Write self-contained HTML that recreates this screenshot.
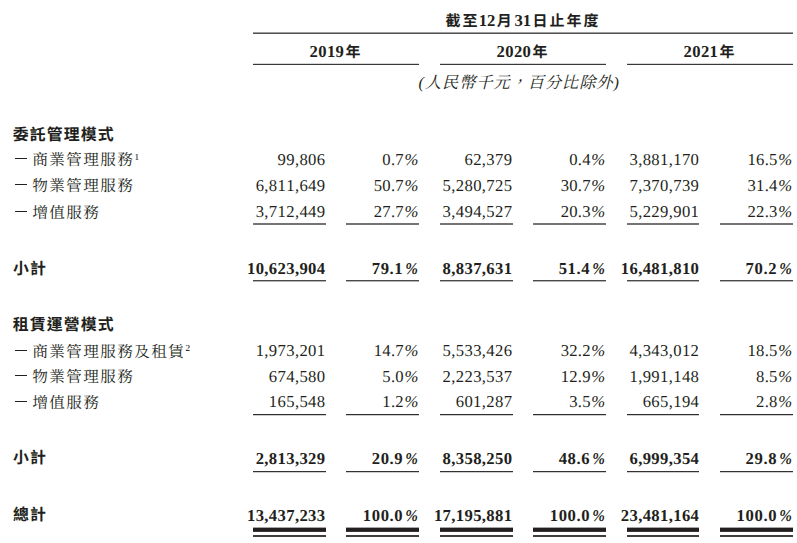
<!DOCTYPE html>
<html lang="zh-Hant"><head><meta charset="utf-8"><title>Revenue table</title>
<style>
html,body{margin:0;padding:0;background:#fff}
body{width:797px;height:543px;position:relative;overflow:hidden;font-family:"Liberation Serif",serif;font-size:16.67px;color:#231f20;text-rendering:geometricPrecision;font-kerning:none}
.r{position:absolute;left:0;width:797px;height:26px;line-height:26px;white-space:nowrap}
.l{position:absolute;left:12.2px;top:0}
.n{position:absolute;top:0;letter-spacing:0.35px;text-align:right}
.b{font-weight:bold}
.n.p{letter-spacing:.25px}
.n i{font-style:italic;margin-left:.5px;letter-spacing:0}
.b .n.p{letter-spacing:.6px}
.b .n i{margin-left:1.1px;display:inline-block;transform:scaleX(.91);transform-origin:100% 50%}
.hd{position:absolute;height:26px;line-height:26px;text-align:center;font-weight:bold;white-space:nowrap}
.note{position:absolute;height:26px;line-height:26px;white-space:nowrap}
.d{letter-spacing:0}
.ln{position:absolute}
.dash{display:inline-block;width:11.8px;height:1px;background:#231f20;vertical-align:5.9px;margin:0 5.4px 0 2.8px}
sup{color:#000;font-size:9.2px;line-height:0;vertical-align:5.3px;margin-left:.3px;letter-spacing:0}
.ch{font-family:"Liberation Sans","Noto Sans CJK TC",sans-serif;font-weight:bold;font-size:15px;letter-spacing:2px}
.cb{font-family:"Liberation Sans","Noto Sans CJK TC",sans-serif;font-weight:bold;font-size:15.9px;letter-spacing:1.1px}
.cs{font-family:"Liberation Serif","Noto Serif CJK SC",serif;font-weight:normal;font-size:15.6px;letter-spacing:1.4px}
.ck{font-family:"Liberation Serif","Noto Serif CJK SC",serif;font-weight:normal;font-style:italic;font-size:16.2px;letter-spacing:.95px}
</style></head>
<body>
<div class="hd" style="top:8.0px;left:253px;width:540px"><span class="ch">截至</span><span class="d" style="margin:0 1.3px 0 -.7px">12</span><span class="ch">月</span><span class="d" style="margin:0 1.4px 0 .8px">31</span><span class="ch">日止年度</span></div>
<div class="ln" style="left:253px;top:32px;width:540px;height:2px;background:linear-gradient(to bottom,#9d9b9b 0px,#9d9b9b 1px,#545152 1px,#545152 2px)"></div>
<div class="hd" style="top:39.0px;left:253px;width:166px"><span class="d" style="margin-right:1.2px;letter-spacing:.33px">2019</span><span class="ch">年</span></div><div class="ln" style="left:253px;top:63px;width:166px;height:2px;background:linear-gradient(to bottom,#d8d6d6 0px,#d8d6d6 1px,#3a3839 1px,#3a3839 2px)"></div>
<div class="hd" style="top:39.0px;left:440px;width:166px"><span class="d" style="margin-right:1.2px;letter-spacing:.33px">2020</span><span class="ch">年</span></div><div class="ln" style="left:440px;top:63px;width:166px;height:2px;background:linear-gradient(to bottom,#d8d6d6 0px,#d8d6d6 1px,#3a3839 1px,#3a3839 2px)"></div>
<div class="hd" style="top:39.0px;left:627px;width:166px"><span class="d" style="margin-right:1.2px;letter-spacing:.33px">2021</span><span class="ch">年</span></div><div class="ln" style="left:627px;top:63px;width:166px;height:2px;background:linear-gradient(to bottom,#d8d6d6 0px,#d8d6d6 1px,#3a3839 1px,#3a3839 2px)"></div>
<div class="note" style="top:70.0px;left:418.6px"><span class="ck">(人民幣千元，百分比除外)</span></div>
<div class="r b" style="top:122.0px"><span class="l" style="left:12.8px;top:-0.4px"><span class="cb">委託管理模式</span></span></div>
<div class="r" style="top:147.0px"><span class="l" style="left:12.2px;top:0px"><span class="dash"></span><span class="cs">商業管理服務</span><sup>1</sup></span><span class="n" style="right:471.55px">99,806</span><span class="n p" style="right:378.75px">0.7<i>%</i></span><span class="n" style="right:284.65px">62,379</span><span class="n p" style="right:191.85px">0.4<i>%</i></span><span class="n" style="right:97.75px">3,881,170</span><span class="n p" style="right:4.95px">16.5<i>%</i></span></div>
<div class="r" style="top:173.0px"><span class="l" style="left:12.2px;top:0px"><span class="dash"></span><span class="cs">物業管理服務</span></span><span class="n" style="right:471.55px">6,811,649</span><span class="n p" style="right:378.75px">50.7<i>%</i></span><span class="n" style="right:284.65px">5,280,725</span><span class="n p" style="right:191.85px">30.7<i>%</i></span><span class="n" style="right:97.75px">7,370,739</span><span class="n p" style="right:4.95px">31.4<i>%</i></span></div>
<div class="r" style="top:199.0px"><span class="l" style="left:12.2px;top:0.7px"><span class="dash"></span><span class="cs">增值服務</span></span><span class="n" style="right:471.55px">3,712,449</span><span class="n p" style="right:378.75px">27.7<i>%</i></span><span class="n" style="right:284.65px">3,494,527</span><span class="n p" style="right:191.85px">20.3<i>%</i></span><span class="n" style="right:97.75px">5,229,901</span><span class="n p" style="right:4.95px">22.3<i>%</i></span></div>
<div class="ln" style="left:253.0px;top:223px;width:72.7px;height:2px;background:linear-gradient(to bottom,#757373 0px,#757373 1px,#757373 1px,#757373 2px)"></div><div class="ln" style="left:346.45px;top:223px;width:72.7px;height:2px;background:linear-gradient(to bottom,#757373 0px,#757373 1px,#757373 1px,#757373 2px)"></div><div class="ln" style="left:439.9px;top:223px;width:72.7px;height:2px;background:linear-gradient(to bottom,#757373 0px,#757373 1px,#757373 1px,#757373 2px)"></div><div class="ln" style="left:533.35px;top:223px;width:72.7px;height:2px;background:linear-gradient(to bottom,#757373 0px,#757373 1px,#757373 1px,#757373 2px)"></div><div class="ln" style="left:626.8px;top:223px;width:72.7px;height:2px;background:linear-gradient(to bottom,#757373 0px,#757373 1px,#757373 1px,#757373 2px)"></div><div class="ln" style="left:720.25px;top:223px;width:72.7px;height:2px;background:linear-gradient(to bottom,#757373 0px,#757373 1px,#757373 1px,#757373 2px)"></div>
<div class="r b" style="top:256.0px"><span class="l" style="left:13.0px;top:-0.2px"><span class="cb">小計</span></span><span class="n" style="right:471.55px">10,623,904</span><span class="n p" style="right:378.75px">79.1<i>%</i></span><span class="n" style="right:284.65px">8,837,631</span><span class="n p" style="right:191.85px">51.4<i>%</i></span><span class="n" style="right:97.75px">16,481,810</span><span class="n p" style="right:4.95px">70.2<i>%</i></span></div>
<div class="ln" style="left:253.0px;top:280px;width:72.7px;height:2px;background:linear-gradient(to bottom,#4a4849 0px,#4a4849 1px,#b5b3b3 1px,#b5b3b3 2px)"></div><div class="ln" style="left:346.45px;top:280px;width:72.7px;height:2px;background:linear-gradient(to bottom,#4a4849 0px,#4a4849 1px,#b5b3b3 1px,#b5b3b3 2px)"></div><div class="ln" style="left:439.9px;top:280px;width:72.7px;height:2px;background:linear-gradient(to bottom,#4a4849 0px,#4a4849 1px,#b5b3b3 1px,#b5b3b3 2px)"></div><div class="ln" style="left:533.35px;top:280px;width:72.7px;height:2px;background:linear-gradient(to bottom,#4a4849 0px,#4a4849 1px,#b5b3b3 1px,#b5b3b3 2px)"></div><div class="ln" style="left:626.8px;top:280px;width:72.7px;height:2px;background:linear-gradient(to bottom,#4a4849 0px,#4a4849 1px,#b5b3b3 1px,#b5b3b3 2px)"></div><div class="ln" style="left:720.25px;top:280px;width:72.7px;height:2px;background:linear-gradient(to bottom,#4a4849 0px,#4a4849 1px,#b5b3b3 1px,#b5b3b3 2px)"></div>
<div class="r b" style="top:313.0px"><span class="l" style="left:12.8px;top:-1.2px"><span class="cb">租賃運營模式</span></span></div>
<div class="r" style="top:338.0px"><span class="l" style="left:12.2px;top:0.6px"><span class="dash"></span><span class="cs">商業管理服務及租賃</span><sup>2</sup></span><span class="n" style="right:471.55px">1,973,201</span><span class="n p" style="right:378.75px">14.7<i>%</i></span><span class="n" style="right:284.65px">5,533,426</span><span class="n p" style="right:191.85px">32.2<i>%</i></span><span class="n" style="right:97.75px">4,343,012</span><span class="n p" style="right:4.95px">18.5<i>%</i></span></div>
<div class="r" style="top:364.0px"><span class="l" style="left:12.2px;top:0px"><span class="dash"></span><span class="cs">物業管理服務</span></span><span class="n" style="right:471.55px">674,580</span><span class="n p" style="right:378.75px">5.0<i>%</i></span><span class="n" style="right:284.65px">2,223,537</span><span class="n p" style="right:191.85px">12.9<i>%</i></span><span class="n" style="right:97.75px">1,991,148</span><span class="n p" style="right:4.95px">8.5<i>%</i></span></div>
<div class="r" style="top:389.0px"><span class="l" style="left:12.2px;top:0.5px"><span class="dash"></span><span class="cs">增值服務</span></span><span class="n" style="right:471.55px">165,548</span><span class="n p" style="right:378.75px">1.2<i>%</i></span><span class="n" style="right:284.65px">601,287</span><span class="n p" style="right:191.85px">3.5<i>%</i></span><span class="n" style="right:97.75px">665,194</span><span class="n p" style="right:4.95px">2.8<i>%</i></span></div>
<div class="ln" style="left:253.0px;top:414px;width:72.7px;height:2px;background:linear-gradient(to bottom,#2f2d2e 0px,#2f2d2e 1px,#cfcdcd 1px,#cfcdcd 2px)"></div><div class="ln" style="left:346.45px;top:414px;width:72.7px;height:2px;background:linear-gradient(to bottom,#2f2d2e 0px,#2f2d2e 1px,#cfcdcd 1px,#cfcdcd 2px)"></div><div class="ln" style="left:439.9px;top:414px;width:72.7px;height:2px;background:linear-gradient(to bottom,#2f2d2e 0px,#2f2d2e 1px,#cfcdcd 1px,#cfcdcd 2px)"></div><div class="ln" style="left:533.35px;top:414px;width:72.7px;height:2px;background:linear-gradient(to bottom,#2f2d2e 0px,#2f2d2e 1px,#cfcdcd 1px,#cfcdcd 2px)"></div><div class="ln" style="left:626.8px;top:414px;width:72.7px;height:2px;background:linear-gradient(to bottom,#2f2d2e 0px,#2f2d2e 1px,#cfcdcd 1px,#cfcdcd 2px)"></div><div class="ln" style="left:720.25px;top:414px;width:72.7px;height:2px;background:linear-gradient(to bottom,#2f2d2e 0px,#2f2d2e 1px,#cfcdcd 1px,#cfcdcd 2px)"></div>
<div class="r b" style="top:446.0px"><span class="l" style="left:13.0px;top:-0.6px"><span class="cb">小計</span></span><span class="n" style="right:471.55px">2,813,329</span><span class="n p" style="right:378.75px">20.9<i>%</i></span><span class="n" style="right:284.65px">8,358,250</span><span class="n p" style="right:191.85px">48.6<i>%</i></span><span class="n" style="right:97.75px">6,999,354</span><span class="n p" style="right:4.95px">29.8<i>%</i></span></div>
<div class="ln" style="left:253.0px;top:471px;width:72.7px;height:2px;background:linear-gradient(to bottom,#333132 0px,#333132 1px,#cfcdcd 1px,#cfcdcd 2px)"></div><div class="ln" style="left:346.45px;top:471px;width:72.7px;height:2px;background:linear-gradient(to bottom,#333132 0px,#333132 1px,#cfcdcd 1px,#cfcdcd 2px)"></div><div class="ln" style="left:439.9px;top:471px;width:72.7px;height:2px;background:linear-gradient(to bottom,#333132 0px,#333132 1px,#cfcdcd 1px,#cfcdcd 2px)"></div><div class="ln" style="left:533.35px;top:471px;width:72.7px;height:2px;background:linear-gradient(to bottom,#333132 0px,#333132 1px,#cfcdcd 1px,#cfcdcd 2px)"></div><div class="ln" style="left:626.8px;top:471px;width:72.7px;height:2px;background:linear-gradient(to bottom,#333132 0px,#333132 1px,#cfcdcd 1px,#cfcdcd 2px)"></div><div class="ln" style="left:720.25px;top:471px;width:72.7px;height:2px;background:linear-gradient(to bottom,#333132 0px,#333132 1px,#cfcdcd 1px,#cfcdcd 2px)"></div>
<div class="r b" style="top:503.0px"><span class="l" style="left:13.0px;top:-0.6px"><span class="cb">總計</span></span><span class="n" style="right:471.55px">13,437,233</span><span class="n p" style="right:378.75px">100.0<i>%</i></span><span class="n" style="right:284.65px">17,195,881</span><span class="n p" style="right:191.85px">100.0<i>%</i></span><span class="n" style="right:97.75px">23,481,164</span><span class="n p" style="right:4.95px">100.0<i>%</i></span></div>
<div class="ln" style="left:253.0px;top:527px;width:72.7px;height:5px;background:linear-gradient(to bottom,#a7a5a5 0px,#a7a5a5 1px,#231f20 1px,#231f20 2px,#231f20 2px,#231f20 3px,#231f20 3px,#231f20 4px,#393536 4px,#393536 5px)"></div><div class="ln" style="left:346.45px;top:527px;width:72.7px;height:5px;background:linear-gradient(to bottom,#a7a5a5 0px,#a7a5a5 1px,#231f20 1px,#231f20 2px,#231f20 2px,#231f20 3px,#231f20 3px,#231f20 4px,#393536 4px,#393536 5px)"></div><div class="ln" style="left:439.9px;top:527px;width:72.7px;height:5px;background:linear-gradient(to bottom,#a7a5a5 0px,#a7a5a5 1px,#231f20 1px,#231f20 2px,#231f20 2px,#231f20 3px,#231f20 3px,#231f20 4px,#393536 4px,#393536 5px)"></div><div class="ln" style="left:533.35px;top:527px;width:72.7px;height:5px;background:linear-gradient(to bottom,#a7a5a5 0px,#a7a5a5 1px,#231f20 1px,#231f20 2px,#231f20 2px,#231f20 3px,#231f20 3px,#231f20 4px,#393536 4px,#393536 5px)"></div><div class="ln" style="left:626.8px;top:527px;width:72.7px;height:5px;background:linear-gradient(to bottom,#a7a5a5 0px,#a7a5a5 1px,#231f20 1px,#231f20 2px,#231f20 2px,#231f20 3px,#231f20 3px,#231f20 4px,#393536 4px,#393536 5px)"></div><div class="ln" style="left:720.25px;top:527px;width:72.7px;height:5px;background:linear-gradient(to bottom,#a7a5a5 0px,#a7a5a5 1px,#231f20 1px,#231f20 2px,#231f20 2px,#231f20 3px,#231f20 3px,#231f20 4px,#393536 4px,#393536 5px)"></div>
<div class="ln" style="left:253.0px;top:535px;width:72.7px;height:2px;background:linear-gradient(to bottom,#413f3e 0px,#413f3e 1px,#413f3e 1px,#413f3e 2px)"></div><div class="ln" style="left:346.45px;top:535px;width:72.7px;height:2px;background:linear-gradient(to bottom,#413f3e 0px,#413f3e 1px,#413f3e 1px,#413f3e 2px)"></div><div class="ln" style="left:439.9px;top:535px;width:72.7px;height:2px;background:linear-gradient(to bottom,#413f3e 0px,#413f3e 1px,#413f3e 1px,#413f3e 2px)"></div><div class="ln" style="left:533.35px;top:535px;width:72.7px;height:2px;background:linear-gradient(to bottom,#413f3e 0px,#413f3e 1px,#413f3e 1px,#413f3e 2px)"></div><div class="ln" style="left:626.8px;top:535px;width:72.7px;height:2px;background:linear-gradient(to bottom,#413f3e 0px,#413f3e 1px,#413f3e 1px,#413f3e 2px)"></div><div class="ln" style="left:720.25px;top:535px;width:72.7px;height:2px;background:linear-gradient(to bottom,#413f3e 0px,#413f3e 1px,#413f3e 1px,#413f3e 2px)"></div>

</body></html>
